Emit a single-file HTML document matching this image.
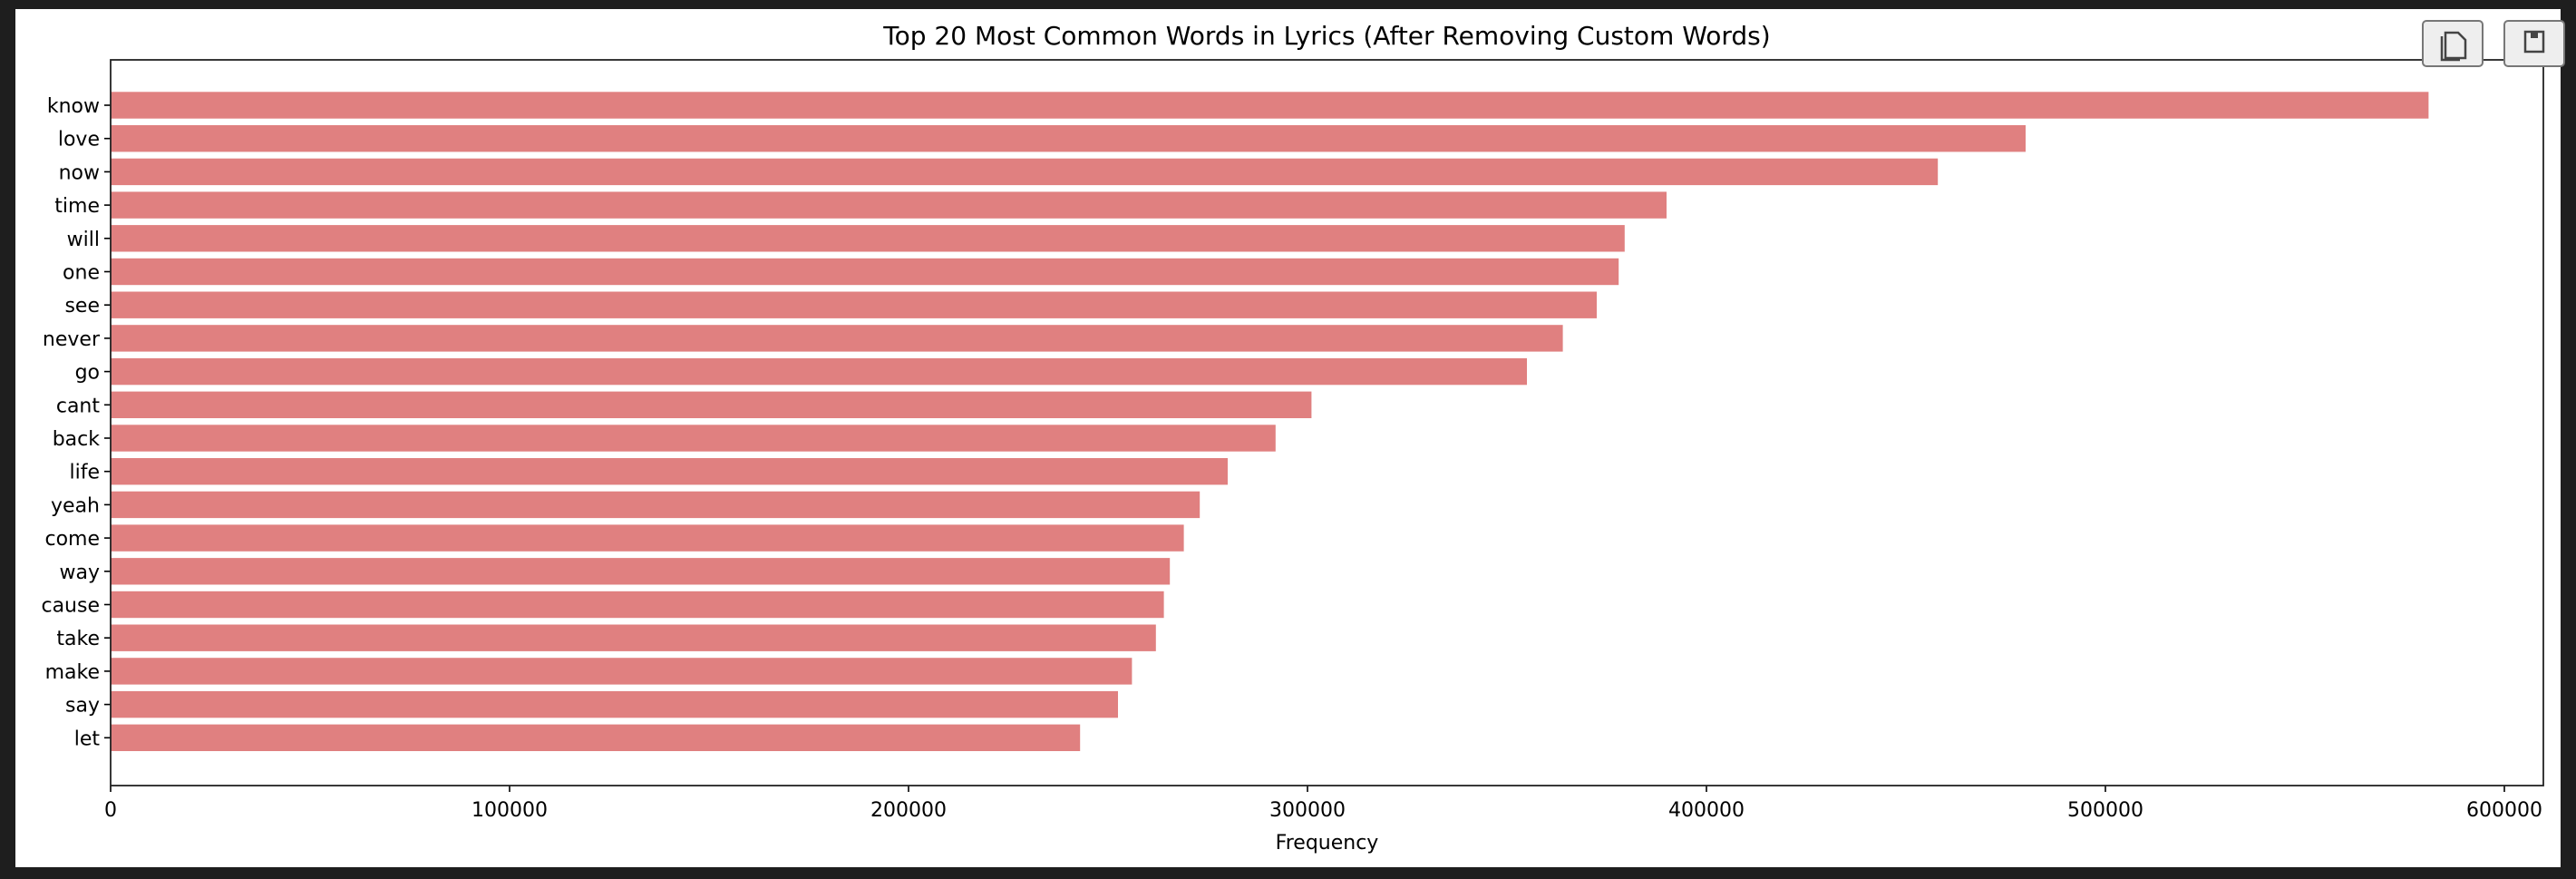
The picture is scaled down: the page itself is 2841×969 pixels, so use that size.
<!DOCTYPE html>
<html><head><meta charset="utf-8"><style>
body{margin:0;background:#1e1e1e;width:2841px;height:969px;overflow:hidden;font-family:"DejaVu Sans","Liberation Sans",sans-serif}
#panel{position:absolute;left:17px;top:10px;width:2807px;height:946px;background:#fff}
.btn{position:absolute;top:22px;width:68px;height:52px;background:#eee;border:2px solid #777;border-radius:5px;box-sizing:border-box}
</style></head><body>
<div id="panel"></div>
<svg id="chart" width="2841" height="969" style="position:absolute;left:0;top:0;font-family:'DejaVu Sans',sans-serif"></svg>
<div class="btn" style="left:2671px">
<svg width="64" height="48"><path d="M24 12h14l8 8v20H24z M20 16v26h20" fill="none" stroke="#444" stroke-width="2.5"/></svg></div>
<div class="btn" style="left:2761px">
<svg width="64" height="48"><rect x="22" y="11" width="20" height="22" fill="none" stroke="#444" stroke-width="2.5"/><rect x="28" y="11" width="8" height="7" fill="#444"/></svg></div>
<script>
const words=["know","love","now","time","will","one","see","never","go","cant","back","life","yeah","come","way","cause","take","make","say","let"];
const counts=[581000,480000,458000,390000,379500,378000,372500,364000,355000,301000,292000,280000,273000,269000,265500,264000,262000,256000,252500,243000];
const xTicks=[0,100000,200000,300000,400000,500000,600000];
const L=122,R=2805,T=66,B=866;
const xs=v=>L+v*440/100000;
const step=36.7, y0=116;
const ys=i=>y0+i*step;
const svg=document.getElementById('chart');
const NS='http://www.w3.org/2000/svg';
function mk(t,a){const e=document.createElementNS(NS,t);for(const k in a)e.setAttribute(k,a[k]);svg.appendChild(e);return e;}
words.forEach((w,i)=>{
 const r=mk('rect',{x:xs(0),y:ys(i)-14.7,width:xs(counts[i])-xs(0),height:29.4,fill:'#e08080'});
 
 
 mk('line',{x1:L-7,x2:L,y1:ys(i),y2:ys(i),stroke:'#000','stroke-width':1.6});
 const t=mk('text',{x:L-12,y:ys(i)+8,'text-anchor':'end','font-size':22,fill:'#000'});t.textContent=w;
 
 
});
xTicks.forEach(v=>{
 mk('line',{x1:xs(v),x2:xs(v),y1:B,y2:B+7,stroke:'#000','stroke-width':1.6});
 const t=mk('text',{x:xs(v),y:B+34,'text-anchor':'middle','font-size':22,fill:'#000'});t.textContent=v;
 
 
});
const f=mk('rect',{x:L,y:T,width:R-L,height:B-T,fill:'none',stroke:'#222','stroke-width':1.8});


const ti=mk('text',{x:(L+R)/2,y:49,'text-anchor':'middle','font-size':28,fill:'#000'});ti.textContent='Top 20 Most Common Words in Lyrics (After Removing Custom Words)';


const xl=mk('text',{x:(L+R)/2,y:936,'text-anchor':'middle','font-size':22,fill:'#000'});xl.textContent='Frequency';


</script>
</body></html>
